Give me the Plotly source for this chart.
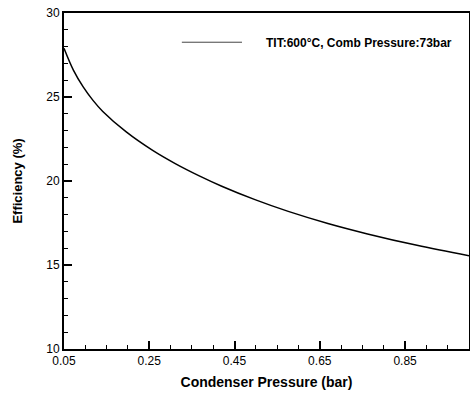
import plotly.graph_objects as go

# Condenser pressure (bar) and cycle efficiency (%)
pressure = [0.05, 0.072, 0.095, 0.118, 0.141, 0.196, 0.258, 0.312, 0.366,
            0.42, 0.498, 0.576, 0.669, 0.762, 0.878, 1.0]
efficiency = [27.9, 26.6, 25.6, 24.8, 24.14, 22.92, 21.82, 21.02, 20.32,
              19.69, 18.89, 18.19, 17.47, 16.85, 16.17, 15.55]

x_tickvals = [0.05, 0.25, 0.45, 0.65, 0.85, 1.0]
x_ticktext = ["0.05", "0.25", "0.45", "0.65", "0.85", "1"]
y_tickvals = [10, 15, 20, 25, 30]

series_label = "TIT:600°C, Comb Pressure:73bar"

fig = go.Figure()
fig.add_trace(go.Scatter(
    x=pressure, y=efficiency, mode="lines",
    line=dict(color="black", width=1.5, shape="spline", smoothing=1.0),
    showlegend=False,
))

font_family = "Liberation Sans, Arial, sans-serif"

fig.update_layout(
    width=470, height=394,
    margin=dict(l=64, r=1, t=13, b=45, autoexpand=False),
    paper_bgcolor="white", plot_bgcolor="white",
    font=dict(family=font_family, color="black", size=12),
    xaxis=dict(
        range=[0.05, 1.0], tickmode="array", tickvals=x_tickvals, ticktext=x_ticktext,
        ticks="inside", ticklen=8, tickwidth=2, tickcolor="black",
        minor=dict(tickmode="linear", tick0=0.05, dtick=0.05, ticks="inside",
                   ticklen=4, tickwidth=1, tickcolor="black"),
        showline=True, linecolor="black", linewidth=2, mirror=True,
        showgrid=False, zeroline=False,
        tickfont=dict(size=12),
        title=dict(text="<b>Condenser Pressure (bar)</b>", font=dict(size=14), standoff=10),
    ),
    yaxis=dict(
        range=[10, 30], tickmode="array", tickvals=y_tickvals,
        ticks="inside", ticklen=8, tickwidth=2, tickcolor="black",
        minor=dict(tickmode="linear", tick0=10, dtick=1, ticks="inside",
                   ticklen=4, tickwidth=1, tickcolor="black"),
        showline=True, linecolor="black", linewidth=2, mirror=True,
        showgrid=False, zeroline=False,
        tickfont=dict(size=12),
        title=dict(text="<b>Efficiency (%)</b>", font=dict(size=13), standoff=21),
    ),
)

# Legend entry: sample line and its label
fig.add_shape(type="line", xref="paper", yref="paper",
              x0=0.291, x1=0.4395, y0=0.913, y1=0.913,
              line=dict(color="#444", width=1))
fig.add_annotation(xref="paper", yref="paper", x=0.494, y=0.911,
                   text="<b>" + series_label + "</b>", showarrow=False,
                   xanchor="left", yanchor="middle",
                   font=dict(size=12, color="black"))

fig.write_html("out.html")
